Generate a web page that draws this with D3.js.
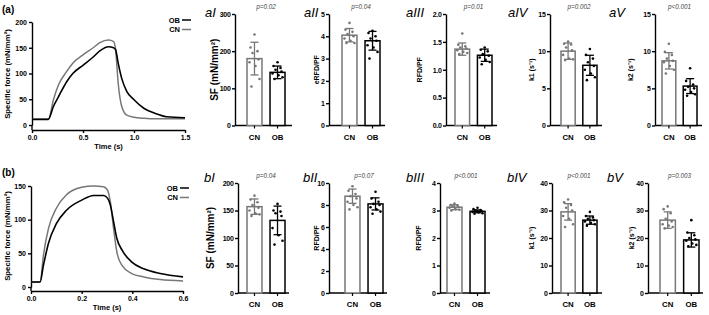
<!DOCTYPE html>
<html>
<head>
<meta charset="utf-8">
<script src="https://cdn.jsdelivr.net/npm/d3@7"></script>
<style>
  body { margin: 0; background: #fff; }
  text { font-family: "Liberation Sans", Arial, sans-serif; }
  .ax path, .ax line { stroke: #000; stroke-width: 1.4px; }
  .ax text { font-size: 7px; font-weight: bold; fill: #000; }
  .bar-ax text { letter-spacing: -0.3px; }
</style>
</head>
<body>
<svg id="fig" width="709" height="315"></svg>
<script>
// ---- force traces ----
var timeA = [0, 0.16, 0.21, 0.26, 0.34, 0.4, 0.5, 0.6, 0.665, 0.75, 0.8, 0.82, 0.845, 0.88, 0.93, 1.0, 1.1, 1.2, 1.32, 1.5];
var forceCNa = [11, 11, 49, 78, 104, 120, 136, 150, 160, 165, 162, 146, 81, 36, 19, 15, 13, 12, 12, 12];
var forceOBa = [11, 11, 36, 55, 84, 100, 116, 132, 144, 152, 150, 146, 120, 90, 65, 49, 32, 23, 16, 14];

var timeB = [0, 0.036, 0.049, 0.069, 0.1, 0.14, 0.2, 0.247, 0.286, 0.302, 0.313, 0.326, 0.339, 0.359, 0.398, 0.445, 0.51, 0.6];
var forceCNb = [7.5, 7.5, 47, 87, 117, 137, 148, 150, 149, 144, 127, 87, 52, 32, 20, 15, 11, 9];
var forceOBb = [7.5, 7.5, 32, 65, 94, 114, 129, 136, 136, 132, 122, 97, 72, 55, 37, 27, 20, 15];

// ---- bar panels ----
var groups = ["CN", "OB"];
var panelNames = ["aI", "aII", "aIII", "aIV", "aV", "bI", "bII", "bIII", "bIV", "bV"];
var pLabels = ["p=0.02", "p=0.04", "p=0.01", "p=0.002", "p<0.001", "p=0.04", "p=0.07", "p<0.001", "p<0.001", "p=0.003"];
var yTitles = ["SF (mN/mm²)", "eRFD/PF", "RFD/PF", "k1 (s⁻¹)", "k2 (s⁻¹)", "SF (mN/mm²)", "RFD/PF", "RFD/PF", "k1 (s⁻¹)", "k2 (s⁻¹)"];
var yTicks = [
  [0, 100, 200, 300], [0, 1, 2, 3, 4, 5], [0, 0.5, 1.0, 1.5, 2.0], [0, 5, 10, 15], [0, 5, 10, 15],
  [0, 50, 100, 150, 200], [0, 2, 4, 6, 8, 10], [0, 1, 2, 3, 4], [0, 10, 20, 30, 40], [0, 10, 20, 30, 40]
];
var cnMean = [180, 4.05, 1.37, 10.0, 8.7, 157, 8.8, 3.12, 29.5, 26.5];
var cnSD = [44, 0.3, 0.11, 1.1, 1.1, 14, 0.65, 0.09, 3.0, 3.0];
var obMean = [143, 3.8, 1.26, 8.1, 5.3, 132, 8.1, 2.97, 26.5, 19.3];
var obSD = [17, 0.42, 0.11, 1.35, 1.0, 26, 0.55, 0.05, 1.5, 2.6];
var cnPoints = [
  [245, 210, 200, 195, 178, 170, 160, 125, 105],
  [4.6, 4.3, 4.2, 4.1, 4.0, 3.9, 3.8, 3.7, 3.7],
  [1.65, 1.45, 1.42, 1.40, 1.38, 1.35, 1.32, 1.30, 1.28],
  [11.3, 11.0, 10.9, 10.5, 10.1, 9.5, 9.0, 8.9, 8.8],
  [11.0, 9.9, 9.5, 9.0, 8.7, 8.5, 8.0, 7.5, 7.0],
  [177, 170, 165, 160, 155, 150, 145, 143, 140],
  [9.7, 9.3, 9.0, 8.8, 8.6, 8.3, 8.0, 7.8, 7.6],
  [3.25, 3.2, 3.18, 3.15, 3.12, 3.1, 3.05, 3.03, 3.0],
  [34, 33, 32, 31, 30, 28, 27, 25, 24],
  [31.5, 30.5, 29, 27, 26, 25, 24.5, 24, 23.5]
];
var obPoints = [
  [170, 160, 155, 150, 145, 140, 135, 130, 125],
  [4.25, 4.15, 4.0, 3.9, 3.8, 3.6, 3.5, 3.3, 3.0],
  [1.40, 1.36, 1.33, 1.28, 1.25, 1.22, 1.18, 1.14, 1.10],
  [10.3, 9.5, 9.0, 8.5, 8.0, 7.5, 7.0, 6.5, 6.1],
  [7.7, 6.0, 5.5, 5.2, 5.0, 4.8, 4.5, 4.2, 4.0],
  [162, 150, 148, 145, 140, 118, 105, 95, 88],
  [9.2, 8.6, 8.3, 8.1, 8.0, 7.8, 7.6, 7.4, 7.2],
  [3.1, 3.05, 3.02, 3.0, 2.98, 2.95, 2.93, 2.9, 2.88],
  [29.5, 28, 27.5, 27, 26.5, 26, 25.5, 25, 24.5],
  [26.5, 22, 21, 20, 19.5, 19, 18, 17.5, 17]
];

var CN_COL = "#777", OB_COL = "#000";
var svg = d3.select("#fig");

// ---------- force-trace panels ----------
function tracePanel(o) {
  var x = d3.scaleLinear().domain([0, o.tmax]).range([o.x0, o.x1]);
  var y = d3.scaleLinear().domain([0, o.fmax]).range([o.yZero, o.yTop]);

  svg.append("g").attr("class", "ax")
    .attr("transform", "translate(" + o.x0 + ",0)")
    .call(d3.axisLeft(y).tickValues(o.fticks).tickSize(3).tickSizeOuter(0).tickPadding(2));
  // y axis runs down to the offset x axis
  svg.append("line").attr("x1", o.x0).attr("x2", o.x0).attr("y1", o.yZero).attr("y2", o.xAxisY)
    .attr("stroke", "#000").attr("stroke-width", 1.4);
  svg.append("g").attr("class", "ax")
    .attr("transform", "translate(0," + o.xAxisY + ")")
    .call(d3.axisBottom(x).tickValues(o.tticks).tickFormat(d3.format(".1f")).tickSize(3).tickSizeOuter(0).tickPadding(2));

  var line = d3.line().curve(d3.curveMonotoneX)
    .x(function (d) { return x(d[0]); }).y(function (d) { return y(d[1]); });
  svg.append("path").datum(d3.zip(o.time, o.cn)).attr("d", line)
    .attr("fill", "none").attr("stroke", CN_COL).attr("stroke-width", 1.5);
  svg.append("path").datum(d3.zip(o.time, o.ob)).attr("d", line)
    .attr("fill", "none").attr("stroke", OB_COL).attr("stroke-width", 1.6);

  svg.append("text").attr("x", (o.x0 + o.x1) / 2).attr("y", o.xAxisY + 19)
    .attr("text-anchor", "middle").style("font-size", "7.5px").style("font-weight", "bold").text("Time (s)");
  svg.append("text").attr("transform", "translate(" + 9.5 + "," + o.ylabY + ") rotate(-90)")
    .attr("text-anchor", "middle").style("font-size", "7.8px").style("font-weight", "bold")
    .text("Specific force (mN/mm²)");
  svg.append("text").attr("x", 2).attr("y", o.tagY).style("font-size", "10px").style("font-weight", "bold").text(o.tag);

  // legend
  [["OB", OB_COL, 0], ["CN", CN_COL, 9.5]].forEach(function (l) {
    svg.append("text").attr("x", o.legX).attr("y", o.legY + l[2] + 2.6).attr("text-anchor", "end")
      .style("font-size", "7.5px").style("font-weight", "bold").text(l[0]);
    svg.append("line").attr("x1", o.legX + 2).attr("x2", o.legX + 11)
      .attr("y1", o.legY + l[2]).attr("y2", o.legY + l[2]).attr("stroke", l[1]).attr("stroke-width", 1.5);
  });
}

tracePanel({ tag: "(a)", tagY: 13, time: timeA, cn: forceCNa, ob: forceOBa, tmax: 1.5, fmax: 200,
  tticks: [0, 0.5, 1.0, 1.5], fticks: [0, 50, 100, 150, 200],
  x0: 32, x1: 185, yTop: 22, yZero: 125, xAxisY: 130, ylabY: 74, legX: 180, legY: 20 });
tracePanel({ tag: "(b)", tagY: 176, time: timeB, cn: forceCNb, ob: forceOBb, tmax: 0.6, fmax: 150,
  tticks: [0, 0.2, 0.4, 0.6], fticks: [0, 50, 100, 150],
  x0: 31, x1: 183, yTop: 186, yZero: 287, xAxisY: 291, ylabY: 236, legX: 178, legY: 188 });

// ---------- bar panels ----------
// [axis x, CN bar left, OB bar right, axis end, y title x, tag x]
var barLayout = [
  [235, 247, 285, 292, 214, 205], [329, 342, 380, 385, 317, 304], [446, 455, 492, 497, 420, 406],
  [550, 561, 597, 602, 532, 508], [655, 662, 697, 702, 631, 609],
  [238, 247, 285, 289, 210, 204], [329, 345, 383, 387, 317, 303], [440, 447, 485, 490, 419, 406],
  [552, 561, 597, 602, 532, 507], [648, 660, 699, 703, 632, 607]
];
var jitter = [0, -4, 3, -2, 4, -5, 1, 5, -3];

panelNames.forEach(function (name, i) {
  var L = barLayout[i];
  var rowA = i < 5;
  var yTop = rowA ? 14 : 183, yZero = rowA ? 125.5 : 293;
  var ticks = yTicks[i];
  var y = d3.scaleLinear().domain([0, ticks[ticks.length - 1]]).range([yZero, yTop]);
  var x = d3.scaleBand().domain(groups).range([L[1], L[2]]).paddingInner(0.35).paddingOuter(0);
  var g = svg.append("g");

  var fmt = (i === 2) ? d3.format(".1f") : d3.format("d");
  g.append("g").attr("class", "ax bar-ax").attr("transform", "translate(" + L[0] + ",0)")
    .call(d3.axisLeft(y).tickValues(ticks).tickFormat(fmt).tickSize(3).tickSizeOuter(0).tickPadding(1.5));
  g.append("line").attr("x1", L[0]).attr("x2", L[3]).attr("y1", yZero).attr("y2", yZero)
    .attr("stroke", "#000").attr("stroke-width", 1.4);

  var means = [cnMean[i], obMean[i]], sds = [cnSD[i], obSD[i]], pts = [cnPoints[i], obPoints[i]];
  groups.forEach(function (grp, k) {
    var col = k === 0 ? CN_COL : OB_COL;
    var bx = x(grp), bw = x.bandwidth(), cx = bx + bw / 2;
    g.append("rect").attr("x", bx).attr("y", y(means[k])).attr("width", bw)
      .attr("height", yZero - y(means[k])).attr("fill", "#fff").attr("stroke", col).attr("stroke-width", 1.5);
    // error bar
    var hi = y(means[k] + sds[k]), lo = y(means[k] - sds[k]);
    g.append("line").attr("x1", cx).attr("x2", cx).attr("y1", hi).attr("y2", lo).attr("stroke", col).attr("stroke-width", 1.3);
    [hi, lo].forEach(function (yy) {
      g.append("line").attr("x1", cx - 4).attr("x2", cx + 4).attr("y1", yy).attr("y2", yy)
        .attr("stroke", col).attr("stroke-width", 1.3);
    });
    g.selectAll(null).data(pts[k]).enter().append("circle")
      .attr("cx", function (d, j) { return cx + jitter[j]; })
      .attr("cy", function (d) { return y(d); })
      .attr("r", 1.3).attr("fill", col);
    // x tick + label
    g.append("line").attr("x1", cx).attr("x2", cx).attr("y1", yZero).attr("y2", yZero + 3)
      .attr("stroke", "#000").attr("stroke-width", 1.2);
    g.append("text").attr("x", cx).attr("y", yZero + 14).attr("text-anchor", "middle")
      .style("font-size", "7.8px").style("font-weight", "bold").text(grp);
  });

  g.append("text").attr("x", (L[1] + L[2]) / 2).attr("y", yTop - 5).attr("text-anchor", "middle")
    .style("font-size", "6.3px").style("font-style", "italic").attr("fill", "#444").text(pLabels[i]);
  g.append("text").attr("x", L[5]).attr("y", rowA ? 17 : 182)
    .style("font-size", "13px").style("font-style", "italic").text(name);
  var big = yTitles[i].indexOf("SF") === 0;
  g.append("text").attr("transform", "translate(" + L[4] + "," + ((yTop + yZero) / 2) + ") rotate(-90)")
    .attr("text-anchor", "middle").attr("dy", "0.35em")
    .style("font-size", big ? "10px" : "7px").style("font-weight", "bold").text(yTitles[i]);
});
</script>
</body>
</html>
